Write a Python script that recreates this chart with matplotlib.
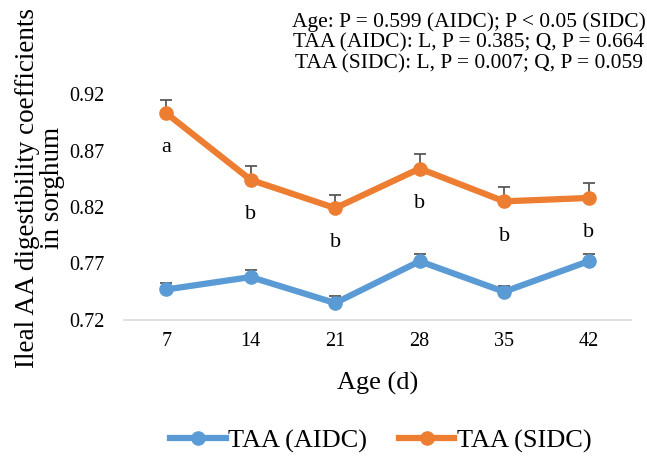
import matplotlib.pyplot as plt

# Данные
ages = ['7', '14', '21', '28', '35', '42']
aidc = [0.747, 0.758, 0.735, 0.772, 0.745, 0.772]
aidc_err = [0.006, 0.006, 0.006, 0.006, 0.005, 0.006]
sidc = [0.903, 0.844, 0.819, 0.854, 0.825, 0.828]
sidc_err = [0.012, 0.012, 0.012, 0.013, 0.013, 0.013]
letters = ['a', 'b', 'b', 'b', 'b', 'b']
yticks = [0.72, 0.77, 0.82, 0.87, 0.92]

stats_text = ("Age: P = 0.599 (AIDC); P < 0.05 (SIDC)\n"
              "TAA (AIDC): L, P = 0.385; Q, P = 0.664\n"
              "TAA (SIDC): L, P = 0.007; Q, P = 0.059")

plt.rcParams['font.family'] = ['Liberation Serif', 'DejaVu Serif']

blue = '#5B9BD5'
orange = '#ED7D31'

fig = plt.figure(figsize=(6.47, 4.57), dpi=100)
ax = fig.add_axes([0.1917, 0.2998, 0.7833, 0.4945])

x = list(range(len(ages)))

# Планки погрешностей (только вверх)
ax.errorbar(x, aidc, yerr=[[0] * len(aidc), aidc_err], fmt='none',
            ecolor='#595959', elinewidth=1.3, capsize=4, capthick=1.3, zorder=2)
ax.errorbar(x, sidc, yerr=[[0] * len(sidc), sidc_err], fmt='none',
            ecolor='#595959', elinewidth=1.3, capsize=4, capthick=1.3, zorder=2)

ax.plot(x, aidc, color=blue, linewidth=4.5, marker='o', markersize=9.5,
        label='TAA (AIDC)', zorder=3)
ax.plot(x, sidc, color=orange, linewidth=4.5, marker='o', markersize=9.5,
        label='TAA (SIDC)', zorder=3)

# Буквы значимости под точками
for i in range(len(letters)):
    ax.annotate(letters[i], (x[i], sidc[i]), xytext=(0, -25),
                textcoords='offset points', ha='center', va='center', fontsize=16)

ax.set_xlim(-0.5, len(ages) - 0.5)
ax.set_ylim(0.72, 0.92)
ax.set_xticks(x)
ax.set_xticklabels(ages)
ax.set_yticks(yticks)
ax.set_yticklabels([f'{v:.2f}' for v in yticks])
ax.tick_params(axis='both', length=0, labelsize=14.5, pad=9)
ax.tick_params(axis='y', pad=14)

for side in ['top', 'right', 'left']:
    ax.spines[side].set_visible(False)
ax.spines['bottom'].set_color('#D9D9D9')
ax.spines['bottom'].set_linewidth(1.2)

fig.text(0.5835, 1 - 383 / 457, 'Age (d)', ha='center', va='center', fontsize=19)
fig.text(40 / 647, 1 - 188 / 457,
         'Ileal AA digestibility coefficients\nin sorghum',
         rotation=90, ha='center', va='center', fontsize=19.5,
         multialignment='center', linespacing=0.95)

fig.text(469 / 647, 1 - 43 / 457, stats_text, ha='center', va='center',
         fontsize=15.5, multialignment='center', linespacing=1.12)

fig.legend(loc='center', bbox_to_anchor=(381 / 647, 1 - 441 / 457), ncol=2,
           frameon=False, fontsize=19, handlelength=2.1, handletextpad=0.1,
           columnspacing=1.2, borderaxespad=0)

plt.savefig('out.png', dpi=100)
